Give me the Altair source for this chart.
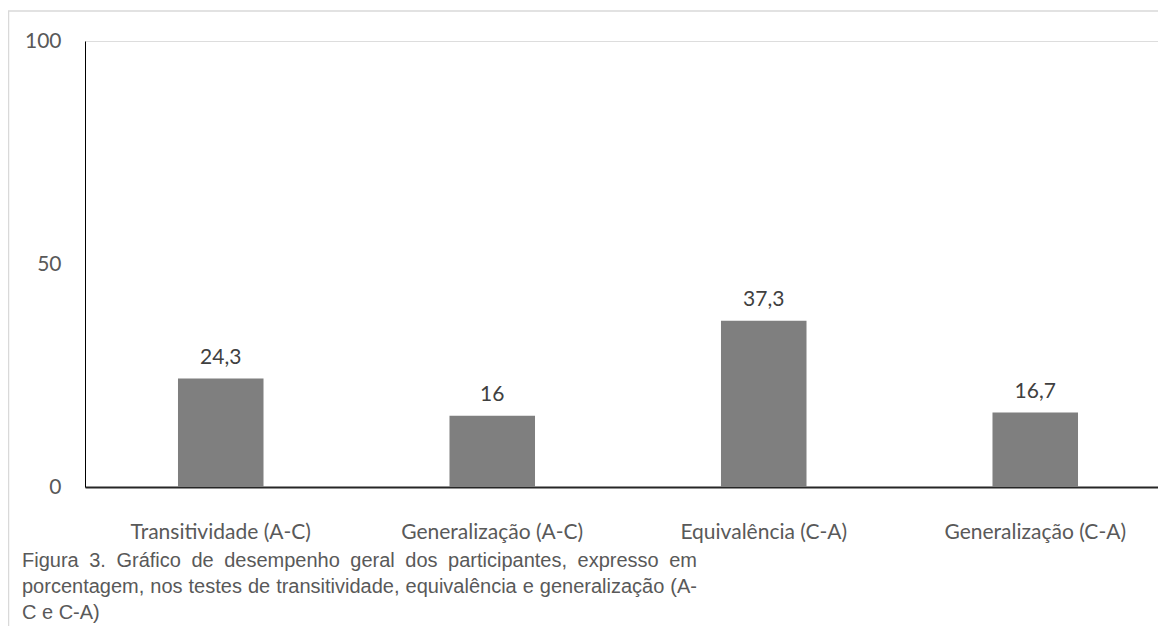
import altair as alt
import pandas as pd

categories = ["Transitividade (A-C)", "Generalização (A-C)", "Equivalência (C-A)", "Generalização (C-A)"]
values = [24.3, 16, 37.3, 16.7]
y_ticks = [0, 50, 100]
caption_lines = [
    "Figura 3. Gráfico de desempenho geral dos participantes, expresso em",
    "porcentagem, nos testes de transitividade, equivalência e generalização (A-",
    "C e C-A)",
]

def fmt(v):
    s = ("%g" % v)
    return s.replace(".", ",")

df = pd.DataFrame({
    "cat": categories,
    "val": values,
    "lab": [fmt(v) for v in values],
})

# visible plot area (page is 1150px wide for content); the category range runs
# a little past the right edge, as in the cropped original
W, H = 1073, 446
X_RANGE = 1086

# --- justified caption layout (Arial / Liberation Sans advance widths, per 1000 em)
AW = {" ": 278, "(": 333, ")": 333, ",": 278, "-": 333, ".": 278, "3": 556,
      "A": 667, "C": 722, "F": 611, "G": 778}
for ch in "abdeghnopqu":
    AW[ch] = 556
for ch in "csvxz":
    AW[ch] = 500
AW.update({"f": 278, "t": 278, "i": 222, "l": 222, "j": 222, "m": 833, "r": 333,
           "á": 556, "ã": 556, "ê": 556, "ç": 500})
CAP_SIZE = 20
CAP_LEFT, CAP_RIGHT = -63, 612
CAP_TOP, CAP_LH = 510, 26

def wwidth(w):
    return sum(AW.get(c, 556) for c in w) * CAP_SIZE / 1000.0

rows = []
for li, line in enumerate(caption_lines):
    words = line.split(" ")
    ys = CAP_TOP + li * CAP_LH
    if li < len(caption_lines) - 1 and len(words) > 1:
        widths = [wwidth(w) for w in words]
        gap = (CAP_RIGHT - CAP_LEFT - sum(widths)) / (len(words) - 1)
        xpos = CAP_LEFT
        for w, wd in zip(words, widths):
            rows.append({"w": w, "px": xpos, "py": ys})
            xpos += wd + gap
    else:
        rows.append({"w": line, "px": CAP_LEFT, "py": ys})
cap_df = pd.DataFrame(rows)

x_scale = alt.Scale(paddingInner=0.685, paddingOuter=0.3425, range=[0, X_RANGE])

x_enc = alt.X(
    "cat:N", sort=categories, title=None, scale=x_scale,
    axis=alt.Axis(labelAngle=0, ticks=False, domainColor="#262626", domainWidth=2,
                  labelFont="Lato", labelFontSize=21, labelColor="#595959",
                  labelPadding=34, labelLimit=400),
)
y_enc = alt.Y(
    "val:Q", title=None,
    scale=alt.Scale(domain=[0, 100], nice=False),
    axis=alt.Axis(values=y_ticks, ticks=False, grid=False, domainColor="#000000",
                  domainWidth=1, labelFont="Lato", labelFontSize=21,
                  labelColor="#595959", labelPadding=24),
)

bars = alt.Chart(df).mark_bar(color="#7f7f7f").encode(x=x_enc, y=y_enc)

labels = alt.Chart(df).mark_text(
    font="Lato", fontSize=21, color="#404040", baseline="bottom", dy=-11
).encode(x=alt.X("cat:N", sort=categories), y="val:Q", text="lab:N")

border = alt.Chart(pd.DataFrame({"k": [0]})).mark_rect(
    fill="white", fillOpacity=0, stroke="#d9d9d9", strokeWidth=1.5
).encode(x=alt.value(-76.5), x2=alt.value(1300), y=alt.value(-30), y2=alt.value(800))

caption = alt.Chart(cap_df).mark_text(
    font="Liberation Sans", fontSize=CAP_SIZE, color="#595959", align="left",
    baseline="top"
).encode(x=alt.X("px:Q", scale=None), y=alt.Y("py:Q", scale=None), text="w:N")

chart = alt.layer(border, bars, labels, caption).properties(
    width=W, height=H,
    autosize=alt.AutoSizeParams(type="none"),
    padding={"left": 77, "top": 33, "right": 0, "bottom": 139},
).configure_view(stroke=None).configure(background="white")

chart.save("out.html", embed_options={"renderer": "svg", "actions": False})
